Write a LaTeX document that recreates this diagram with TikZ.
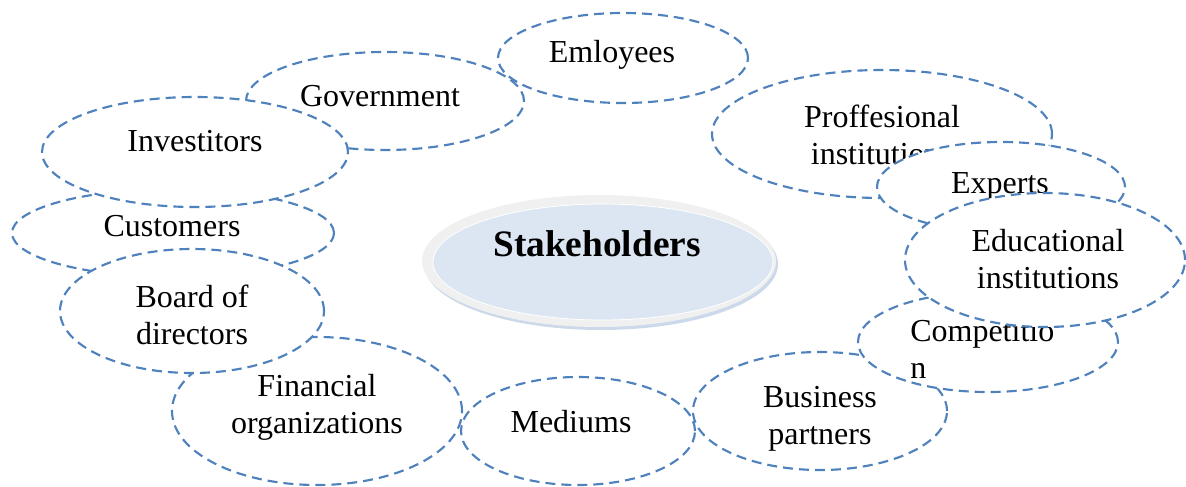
\documentclass[tikz,border=0pt]{standalone}
\usepackage{fontspec}
\setmainfont{Liberation Serif}
\usetikzlibrary{shapes.geometric}
\definecolor{dashblue}{HTML}{4F81BD}
\definecolor{hubfill}{HTML}{DCE6F2}
\definecolor{hubrim}{HTML}{F0F0F0}
\definecolor{hubshade}{HTML}{CBD9EB}
\tikzset{
  bubble/.style={ellipse, draw=dashblue, fill=white, line width=1.6pt,
    dash pattern=on 7.5pt off 4.5pt, inner sep=0pt},
  lbl/.style={font=\fontsize{24}{27.75}\selectfont, align=center, inner sep=0pt},
  hub/.style={ellipse, inner sep=0pt}
}
\begin{document}
\begin{tikzpicture}[x=0.75pt,y=-0.75pt]
\useasboundingbox (0,0) rectangle (1186,486);
% Government & Employees
\node[bubble, minimum width=208.5pt, minimum height=73.5pt] (govE) at (385,101) {};
\node[lbl] (govT) at (380,96) {Government};
\node[bubble, minimum width=187.5pt, minimum height=67.5pt] (empE) at (623,58) {};
\node[lbl] (empT) at (612,55) {Emloyees};
% Customers & Investitors
\node[bubble, minimum width=241.5pt, minimum height=66pt] (cusE) at (173,233) {};
\node[lbl] (cusT) at (172,226) {Customers};
\node[bubble, minimum width=229.5pt, minimum height=82.5pt] (invE) at (195,152) {};
\node[lbl] (invT) at (195,141) {Investitors};
% Financial & Board
\node[bubble, minimum width=217.5pt, minimum height=111pt] (finE) at (317,411) {};
\node[lbl] (finT) at (317,407) {Financial\\organizations};
\node[bubble, minimum width=198pt, minimum height=93pt] (brdE) at (192,311) {};
\node[lbl] (brdT) at (192,315) {Board of\\directors};
% Mediums, Business, Competition
\node[bubble, minimum width=175.5pt, minimum height=81pt] (medE) at (578,431) {};
\node[lbl] (medT) at (571,422) {Mediums};
\node[bubble, minimum width=190.5pt, minimum height=88.5pt] (busE) at (820,411) {};
\node[lbl] (busT) at (820,419) {Business\\partners};
\node[bubble, minimum width=195pt, minimum height=75pt] (comE) at (988,342) {};
\node[lbl, align=left, anchor=west] (comT) at (910,349) {Competitio\\n};
% Proffesional, Experts, Educational
\node[bubble, minimum width=255pt, minimum height=96pt] (proE) at (882,134) {};
\node[lbl] (proT) at (882,135) {Proffesional\\institutions};
\node[bubble, minimum width=186pt, minimum height=67.5pt] (expE) at (1001,187) {};
\node[lbl] (expT) at (1000,186) {Experts};
\node[bubble, minimum width=210pt, minimum height=100.5pt] (eduE) at (1045,260) {};
\node[lbl] (eduT) at (1048,259) {Educational\\institutions};
% Central hub
\node[hub, fill=hubshade, minimum width=265.5pt, minimum height=99pt] (hubS) at (601,264) {};
\node[hub, fill=hubrim, minimum width=265.5pt, minimum height=99pt] (hubR) at (599,261) {};
\node[hub, fill=hubfill, draw=white, line width=0.6pt, minimum width=255pt, minimum height=87pt] (hubF) at (603,262) {};
\node[font=\fontsize{28}{33}\selectfont\bfseries, inner sep=0pt] (hubT) at (597,244) {Stakeholders};
\end{tikzpicture}
\end{document}
